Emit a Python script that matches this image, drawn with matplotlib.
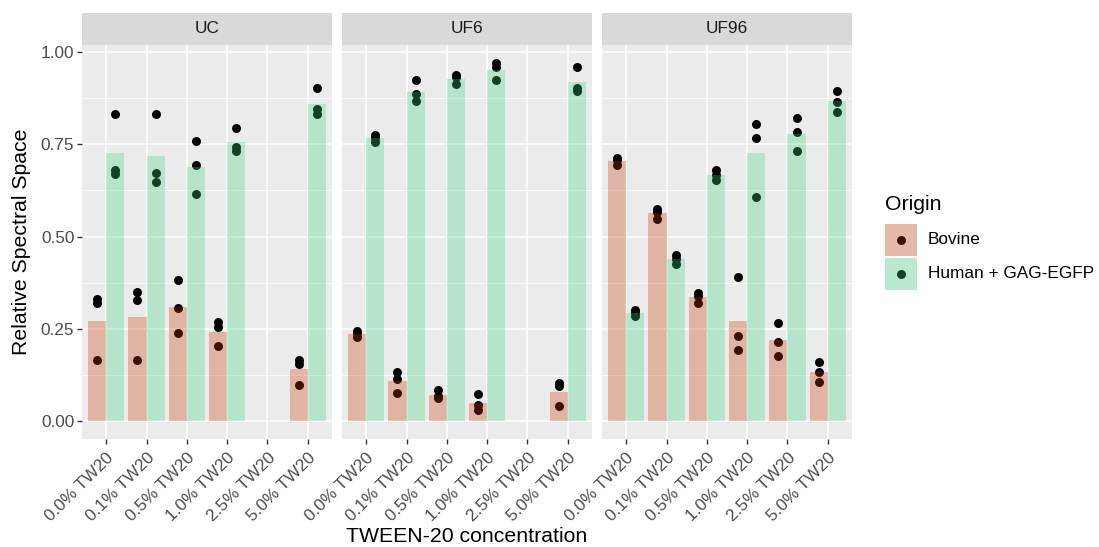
import numpy as np
import matplotlib
matplotlib.use("Agg")
import matplotlib.pyplot as plt
from matplotlib.patches import Rectangle

plt.rcParams["font.family"] = ["Liberation Sans", "DejaVu Sans"]

panels = ["UC", "UF6", "UF96"]
concentrations = ["0.0% TW20", "0.1% TW20", "0.5% TW20", "1.0% TW20", "2.5% TW20", "5.0% TW20"]
origins = ["Bovine", "Human + GAG-EGFP"]

# replicate values per concentration (empty = not measured)
uc_bovine = [[0.332, 0.319, 0.167], [0.350, 0.329, 0.167], [0.383, 0.307, 0.239],
             [0.269, 0.255, 0.204], [], [0.167, 0.156, 0.099]]
uc_human = [[0.833, 0.680, 0.669], [0.833, 0.671, 0.649], [0.760, 0.693, 0.616],
            [0.795, 0.743, 0.731], [], [0.901, 0.844, 0.833]]
uf6_bovine = [[0.244, 0.239, 0.228], [0.134, 0.115, 0.077], [0.086, 0.068, 0.062],
              [0.075, 0.043, 0.030], [], [0.104, 0.095, 0.042]]
uf6_human = [[0.774, 0.768, 0.756], [0.923, 0.885, 0.866], [0.937, 0.932, 0.912],
             [0.970, 0.959, 0.923], [], [0.958, 0.901, 0.894]]
uf96_bovine = [[0.713, 0.707, 0.695], [0.574, 0.567, 0.547], [0.347, 0.340, 0.320],
               [0.392, 0.232, 0.194], [0.266, 0.215, 0.177], [0.161, 0.134, 0.107]]
uf96_human = [[0.302, 0.292, 0.286], [0.451, 0.440, 0.427], [0.680, 0.668, 0.654],
              [0.804, 0.766, 0.607], [0.822, 0.783, 0.732], [0.894, 0.865, 0.838]]

data = {
    "UC": [uc_bovine, uc_human],
    "UF6": [uf6_bovine, uf6_human],
    "UF96": [uf96_bovine, uf96_human],
}

colors = ["#CD3400", "#3ED484"]
ALPHA = 0.3
W, H = 1099, 547
SMALL, BIG = 12.4, 15.3

fig = plt.figure(figsize=(W / 100, H / 100), dpi=100)


def fx(px):
    return px / W


def fy(py):
    return 1 - py / H


panel_left = [82, 342, 602]
panel_w = 250
top, strip_top, bottom = 45, 12.7, 439.3

x = np.arange(len(concentrations))
bw = 0.45

for i, name in enumerate(panels):
    ax = fig.add_axes([fx(panel_left[i]), fy(bottom), fx(panel_w), fy(top) - fy(bottom)])
    ax.set_facecolor("#EBEBEB")
    for s in ax.spines.values():
        s.set_visible(False)
    ax.set_xlim(-0.6, len(concentrations) - 0.4)
    ax.set_ylim(-0.0485, 1.0185)
    ax.set_yticks([0, 0.25, 0.5, 0.75, 1.0])
    ax.set_yticks([0.125, 0.375, 0.625, 0.875], minor=True)
    ax.set_xticks(x)
    ax.grid(which="major", color="white", lw=1.1, zorder=0)
    ax.grid(which="minor", axis="y", color="white", lw=0.55, zorder=0)
    ax.set_axisbelow(True)
    ax.tick_params(which="minor", length=0)
    ax.tick_params(which="major", length=3.5, width=1, color="#333333",
                   labelsize=SMALL, labelcolor="#4D4D4D", pad=2)
    ax.tick_params(axis="x", pad=4.5)
    ax.set_xticklabels(concentrations, rotation=45, ha="right", va="top",
                       rotation_mode="anchor")
    if i == 0:
        ax.set_yticklabels(["0.00", "0.25", "0.50", "0.75", "1.00"])
    else:
        ax.tick_params(axis="y", which="major", length=0, labelleft=False)

    for j, (origin, col) in enumerate(zip(origins, colors)):
        off = (j - 0.5) * bw
        reps = data[name][j]
        for k, vals in enumerate(reps):
            if not vals:
                continue
            ax.scatter([x[k] + off] * len(vals), vals, s=42, color="black",
                       linewidths=0, zorder=2)
            ax.bar(x[k] + off, np.mean(vals), width=bw, color=col, alpha=ALPHA,
                   linewidth=0, zorder=3)

    # facet strip
    sax = fig.add_axes([fx(panel_left[i]), fy(top), fx(panel_w), fy(strip_top) - fy(top)])
    sax.set_facecolor("#D9D9D9")
    sax.set_xticks([])
    sax.set_yticks([])
    for s in sax.spines.values():
        s.set_visible(False)
    sax.text(0.5, 0.5, name, ha="center", va="center", fontsize=SMALL, color="#1A1A1A",
             transform=sax.transAxes)

fig.text(fx(22), fy((top + bottom) / 2), "Relative Spectral Space", rotation=90,
         ha="center", va="center", fontsize=BIG)
fig.text(fx(467), fy(537), "TWEEN-20 concentration", ha="center", va="center", fontsize=BIG)

# legend
lax = fig.add_axes([0, 0, 1, 1])
lax.set_xlim(0, W)
lax.set_ylim(H, 0)
lax.axis("off")
lax.text(885, 204, "Origin", fontsize=BIG, ha="left", va="center")
for j, (origin, col) in enumerate(zip(origins, colors)):
    y0 = 224 + j * 34
    lax.add_patch(Rectangle((885, y0), 32, 32, facecolor="#F2F2F2", edgecolor="none"))
    lax.scatter([901], [y0 + 16], s=42, color="black", linewidths=0, zorder=2)
    lax.add_patch(Rectangle((885, y0), 32, 32, facecolor=col, alpha=ALPHA,
                            edgecolor="none", zorder=3))
    lax.text(928, y0 + 16, origin, fontsize=SMALL, ha="left", va="center")

fig.savefig("out.png", dpi=100)
